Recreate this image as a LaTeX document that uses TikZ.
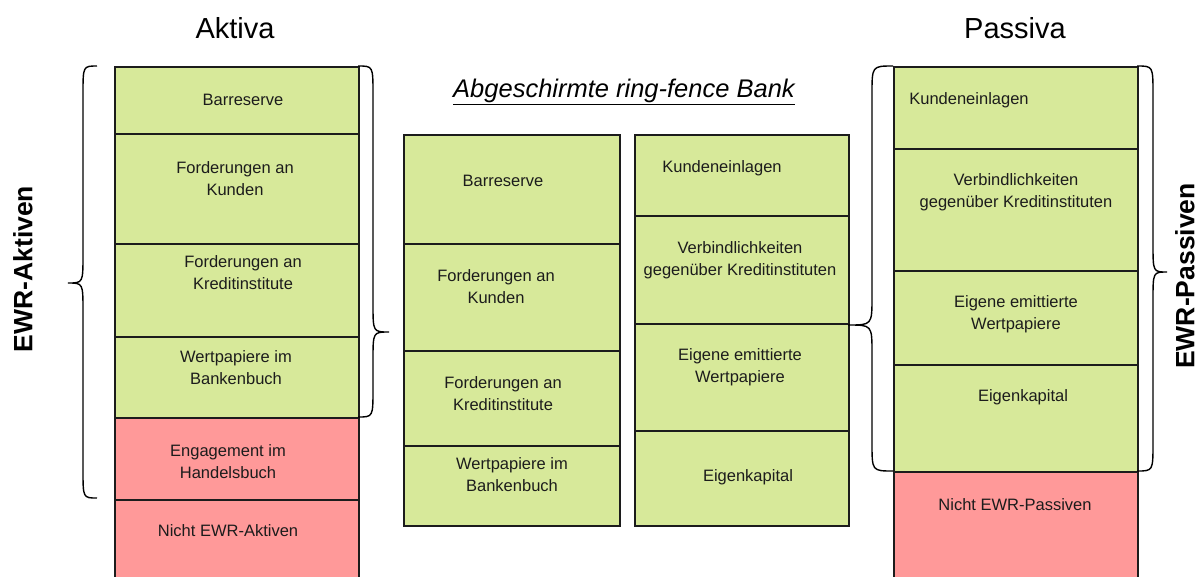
\documentclass[tikz,border=0pt]{standalone}
\usepackage{fontspec}
\setmainfont{Liberation Sans}
\usepackage{tikz}
\usetikzlibrary{positioning}
\definecolor{ewrgreen}{HTML}{D7E99A}
\definecolor{ewrred}{HTML}{FF9999}
\definecolor{inkgrey}{HTML}{1C1C1C}

\tikzset{
  bankbox/.style={draw=inkgrey, line width=1.6pt, anchor=north west, inner sep=0pt},
  boxtext/.style={text=inkgrey, align=center, font=\fontsize{16.5}{22}\selectfont},
  headtext/.style={text=black, font=\fontsize{29}{34}\selectfont},
  sidetext/.style={text=black, rotate=90, font=\bfseries\fontsize{26.5}{30}\selectfont},
  bracestyle/.style={draw=black, line width=1.4pt}
}

% brace: end x, body x, tip x, top y, tip y, bottom y
\newcommand{\ewrbrace}[6]{%
  \draw[bracestyle] (#1,#4) .. controls (#2,#4) .. (#2,#4+28)
    -- (#2,#5-28) .. controls (#2,#5) .. (#3,#5)
    .. controls (#2,#5) .. (#2,#5+28)
    -- (#2,#6-28) .. controls (#2,#6) .. (#1,#6);}

\begin{document}
\begin{tikzpicture}[x=1pt, y=-1pt]
  \useasboundingbox (0,0) rectangle (1200,576);

  % Aktiva
  \foreach \n/\ya/\yb/\c/\tx/\ty/\txt in {
      a1/66/133/ewrgreen/243/100/Barreserve,
      a2/133/243/ewrgreen/235/179/{Forderungen an\\Kunden},
      a3/243/336/ewrgreen/243/273/{Forderungen an\\Kreditinstitute},
      a4/336/417/ewrgreen/236/368/{Wertpapiere im\\Bankenbuch},
      a5/417/499/ewrred/228/462/{Engagement im\\Handelsbuch},
      a6/499/590/ewrred/228/531/{Nicht EWR-Aktiven}} {
    \node[bankbox, fill=\c, minimum width=244pt, minimum height={(\yb-\ya)*1pt}] (\n) at (114,\ya) {};
    \node[boxtext] (\n-txt) at (\tx,\ty) {\txt};
  }

  % ring-fence Bank, Aktiva
  \foreach \n/\ya/\yb/\tx/\ty/\txt in {
      r1/134/243/503/181/Barreserve,
      r2/243/350/496/287/{Forderungen an\\Kunden},
      r3/350/445/503/394/{Forderungen an\\Kreditinstitute},
      r4/445/525/512/475/{Wertpapiere im\\Bankenbuch}} {
    \node[bankbox, fill=ewrgreen, minimum width=216pt, minimum height={(\yb-\ya)*1pt}] (\n) at (403,\ya) {};
    \node[boxtext] (\n-txt) at (\tx,\ty) {\txt};
  }

  % ring-fence Bank, Passiva
  \foreach \n/\ya/\yb/\tx/\ty/\txt in {
      q1/134/215/722/168/Kundeneinlagen,
      q2/215/323/740/260/{Verbindlichkeiten\\gegenüber Kreditinstituten},
      q3/323/430/740/367/{Eigene emittierte\\Wertpapiere},
      q4/430/525/748/477/Eigenkapital} {
    \node[bankbox, fill=ewrgreen, minimum width=214pt, minimum height={(\yb-\ya)*1pt}] (\n) at (634,\ya) {};
    \node[boxtext] (\n-txt) at (\tx,\ty) {\txt};
  }

  % Passiva
  \foreach \n/\ya/\yb/\c/\tx/\ty/\txt in {
      p1/66/148/ewrgreen/969/100/Kundeneinlagen,
      p2/148/270/ewrgreen/1016/192/{Verbindlichkeiten\\gegenüber Kreditinstituten},
      p3/270/364/ewrgreen/1016/314/{Eigene emittierte\\Wertpapiere},
      p4/364/471/ewrgreen/1023/397/Eigenkapital,
      p5/471/590/ewrred/1015/505/{Nicht EWR-Passiven}} {
    \node[bankbox, fill=\c, minimum width=244pt, minimum height={(\yb-\ya)*1pt}] (\n) at (893,\ya) {};
    \node[boxtext] (\n-txt) at (\tx,\ty) {\txt};
  }

  % headings
  \node[headtext] (aktiva) at (235,28) {Aktiva};
  \node[headtext] (passiva) at (1015,28) {Passiva};
  \node[text=black, font=\itshape\fontsize{25.5}{30}\selectfont] (ringfence) at (624,92) {\underline{Abgeschirmte ring-fence Bank}};
  \node[sidetext] (ewraktiv) at (23,269) {EWR-Aktiven};
  \node[sidetext] (ewrpassiv) at (1185,276) {EWR-Passiven};

  % braces
  \ewrbrace{97}{83}{68}{66}{283}{498}
  \ewrbrace{358}{373}{389}{66}{332}{417}
  \ewrbrace{893}{872}{848}{66}{325}{471}
  \ewrbrace{1137}{1153}{1167}{66}{272}{471}
\end{tikzpicture}
\end{document}
